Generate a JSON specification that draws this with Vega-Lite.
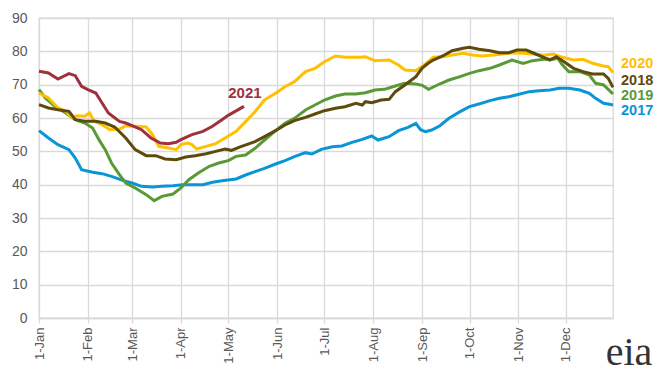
{
  "$schema": "https://vega.github.io/schema/vega-lite/v6.json",
  "width": 574,
  "height": 300,
  "autosize": "none",
  "padding": {"left": 39, "top": 18, "right": 56, "bottom": 57},
  "background": "white",
  "config": {
    "view": {"stroke": "#d9d9d9", "strokeWidth": 1.3},
    "font": "Liberation Sans"
  },
  "datasets": {
    "lines": [
      {"year":"2017","date":"2017-01-01","v":56.2},{"year":"2017","date":"2017-01-07","v":54},{"year":"2017","date":"2017-01-13","v":52},{"year":"2017","date":"2017-01-20","v":50.5},{"year":"2017","date":"2017-01-24","v":48},{"year":"2017","date":"2017-01-28","v":44.5},{"year":"2017","date":"2017-02-04","v":43.7},{"year":"2017","date":"2017-02-10","v":43.3},{"year":"2017","date":"2017-02-16","v":42.5},{"year":"2017","date":"2017-02-23","v":41.3},{"year":"2017","date":"2017-03-01","v":40.5},{"year":"2017","date":"2017-03-07","v":39.5},{"year":"2017","date":"2017-03-14","v":39.3},{"year":"2017","date":"2017-03-20","v":39.5},{"year":"2017","date":"2017-03-27","v":39.7},{"year":"2017","date":"2017-04-02","v":40},{"year":"2017","date":"2017-04-08","v":40},{"year":"2017","date":"2017-04-15","v":40},{"year":"2017","date":"2017-04-21","v":40.7},{"year":"2017","date":"2017-04-27","v":41.2},{"year":"2017","date":"2017-05-06","v":41.7},{"year":"2017","date":"2017-05-12","v":42.9},{"year":"2017","date":"2017-05-18","v":43.9},{"year":"2017","date":"2017-05-24","v":44.9},{"year":"2017","date":"2017-05-31","v":46.2},{"year":"2017","date":"2017-06-06","v":47.2},{"year":"2017","date":"2017-06-12","v":48.4},{"year":"2017","date":"2017-06-19","v":49.6},{"year":"2017","date":"2017-06-23","v":49.2},{"year":"2017","date":"2017-06-29","v":50.6},{"year":"2017","date":"2017-07-06","v":51.4},{"year":"2017","date":"2017-07-12","v":51.6},{"year":"2017","date":"2017-07-18","v":52.6},{"year":"2017","date":"2017-07-25","v":53.6},{"year":"2017","date":"2017-07-31","v":54.6},{"year":"2017","date":"2017-08-04","v":53.4},{"year":"2017","date":"2017-08-11","v":54.4},{"year":"2017","date":"2017-08-17","v":56.2},{"year":"2017","date":"2017-08-23","v":57.2},{"year":"2017","date":"2017-08-28","v":58.4},{"year":"2017","date":"2017-08-31","v":56.5},{"year":"2017","date":"2017-09-03","v":55.9},{"year":"2017","date":"2017-09-07","v":56.4},{"year":"2017","date":"2017-09-12","v":57.6},{"year":"2017","date":"2017-09-18","v":59.9},{"year":"2017","date":"2017-09-25","v":61.9},{"year":"2017","date":"2017-10-01","v":63.4},{"year":"2017","date":"2017-10-07","v":64.2},{"year":"2017","date":"2017-10-14","v":65.2},{"year":"2017","date":"2017-10-20","v":65.9},{"year":"2017","date":"2017-10-26","v":66.4},{"year":"2017","date":"2017-11-02","v":67.2},{"year":"2017","date":"2017-11-08","v":67.9},{"year":"2017","date":"2017-11-14","v":68.2},{"year":"2017","date":"2017-11-21","v":68.4},{"year":"2017","date":"2017-11-27","v":68.9},{"year":"2017","date":"2017-12-03","v":68.9},{"year":"2017","date":"2017-12-10","v":68.4},{"year":"2017","date":"2017-12-16","v":67.4},{"year":"2017","date":"2017-12-20","v":65.9},{"year":"2017","date":"2017-12-25","v":64.4},{"year":"2017","date":"2017-12-28","v":64.2},{"year":"2017","date":"2017-12-31","v":63.9},

      {"year":"2019","date":"2017-01-01","v":68.5},{"year":"2019","date":"2017-01-05","v":66},{"year":"2019","date":"2017-01-11","v":63.5},{"year":"2019","date":"2017-01-18","v":61.5},{"year":"2019","date":"2017-01-24","v":59.5},{"year":"2019","date":"2017-01-30","v":58.5},{"year":"2019","date":"2017-02-04","v":57},{"year":"2019","date":"2017-02-08","v":53.5},{"year":"2019","date":"2017-02-12","v":50.5},{"year":"2019","date":"2017-02-16","v":46.5},{"year":"2019","date":"2017-02-21","v":43},{"year":"2019","date":"2017-02-25","v":40.5},{"year":"2019","date":"2017-03-03","v":39},{"year":"2019","date":"2017-03-10","v":37},{"year":"2019","date":"2017-03-15","v":35.2},{"year":"2019","date":"2017-03-20","v":36.5},{"year":"2019","date":"2017-03-27","v":37.2},{"year":"2019","date":"2017-04-01","v":39},{"year":"2019","date":"2017-04-06","v":41.5},{"year":"2019","date":"2017-04-12","v":43.5},{"year":"2019","date":"2017-04-19","v":45.5},{"year":"2019","date":"2017-04-25","v":46.5},{"year":"2019","date":"2017-05-01","v":47.2},{"year":"2019","date":"2017-05-06","v":48.5},{"year":"2019","date":"2017-05-12","v":48.9},{"year":"2019","date":"2017-05-18","v":50.9},{"year":"2019","date":"2017-05-24","v":53.4},{"year":"2019","date":"2017-05-31","v":56.2},{"year":"2019","date":"2017-06-06","v":58.4},{"year":"2019","date":"2017-06-12","v":59.9},{"year":"2019","date":"2017-06-19","v":62.4},{"year":"2019","date":"2017-06-25","v":63.9},{"year":"2019","date":"2017-07-01","v":65.4},{"year":"2019","date":"2017-07-08","v":66.6},{"year":"2019","date":"2017-07-14","v":67.2},{"year":"2019","date":"2017-07-21","v":67.2},{"year":"2019","date":"2017-07-27","v":67.6},{"year":"2019","date":"2017-08-02","v":68.4},{"year":"2019","date":"2017-08-08","v":68.6},{"year":"2019","date":"2017-08-15","v":69.6},{"year":"2019","date":"2017-08-21","v":70.4},{"year":"2019","date":"2017-08-28","v":70.2},{"year":"2019","date":"2017-09-01","v":69.8},{"year":"2019","date":"2017-09-05","v":68.6},{"year":"2019","date":"2017-09-12","v":70.2},{"year":"2019","date":"2017-09-18","v":71.4},{"year":"2019","date":"2017-09-25","v":72.4},{"year":"2019","date":"2017-10-01","v":73.4},{"year":"2019","date":"2017-10-07","v":74.2},{"year":"2019","date":"2017-10-14","v":74.9},{"year":"2019","date":"2017-10-20","v":75.9},{"year":"2019","date":"2017-10-28","v":77.4},{"year":"2019","date":"2017-11-04","v":76.4},{"year":"2019","date":"2017-11-10","v":77.2},{"year":"2019","date":"2017-11-17","v":77.6},{"year":"2019","date":"2017-11-23","v":77.6},{"year":"2019","date":"2017-11-26","v":77.9},{"year":"2019","date":"2017-11-29","v":75.9},{"year":"2019","date":"2017-12-03","v":73.9},{"year":"2019","date":"2017-12-10","v":73.9},{"year":"2019","date":"2017-12-16","v":72.9},{"year":"2019","date":"2017-12-20","v":70.4},{"year":"2019","date":"2017-12-25","v":69.9},{"year":"2019","date":"2017-12-28","v":68.6},{"year":"2019","date":"2017-12-31","v":67.2},

      {"year":"2020","date":"2017-01-01","v":67.5},{"year":"2020","date":"2017-01-07","v":66},{"year":"2020","date":"2017-01-13","v":63},{"year":"2020","date":"2017-01-18","v":62},{"year":"2020","date":"2017-01-22","v":60},{"year":"2020","date":"2017-01-25","v":60.7},{"year":"2020","date":"2017-01-30","v":60.5},{"year":"2020","date":"2017-02-02","v":61.5},{"year":"2020","date":"2017-02-05","v":59},{"year":"2020","date":"2017-02-10","v":58},{"year":"2020","date":"2017-02-15","v":56.5},{"year":"2020","date":"2017-02-21","v":56.7},{"year":"2020","date":"2017-02-25","v":57.7},{"year":"2020","date":"2017-03-03","v":57.5},{"year":"2020","date":"2017-03-10","v":57.3},{"year":"2020","date":"2017-03-14","v":55},{"year":"2020","date":"2017-03-18","v":51.5},{"year":"2020","date":"2017-03-24","v":51},{"year":"2020","date":"2017-03-29","v":50.5},{"year":"2020","date":"2017-04-01","v":52},{"year":"2020","date":"2017-04-05","v":52.5},{"year":"2020","date":"2017-04-08","v":52},{"year":"2020","date":"2017-04-11","v":50.7},{"year":"2020","date":"2017-04-17","v":51.5},{"year":"2020","date":"2017-04-23","v":52.3},{"year":"2020","date":"2017-04-29","v":54},{"year":"2020","date":"2017-05-06","v":56},{"year":"2020","date":"2017-05-12","v":58.9},{"year":"2020","date":"2017-05-18","v":61.9},{"year":"2020","date":"2017-05-24","v":65.4},{"year":"2020","date":"2017-05-31","v":67.4},{"year":"2020","date":"2017-06-06","v":69.4},{"year":"2020","date":"2017-06-12","v":70.9},{"year":"2020","date":"2017-06-19","v":73.9},{"year":"2020","date":"2017-06-25","v":74.9},{"year":"2020","date":"2017-07-01","v":76.9},{"year":"2020","date":"2017-07-08","v":78.6},{"year":"2020","date":"2017-07-14","v":78.2},{"year":"2020","date":"2017-07-23","v":78.2},{"year":"2020","date":"2017-07-27","v":78.4},{"year":"2020","date":"2017-08-02","v":77.2},{"year":"2020","date":"2017-08-11","v":77.4},{"year":"2020","date":"2017-08-17","v":75.9},{"year":"2020","date":"2017-08-21","v":74.4},{"year":"2020","date":"2017-08-28","v":74.2},{"year":"2020","date":"2017-09-01","v":75.5},{"year":"2020","date":"2017-09-05","v":77},{"year":"2020","date":"2017-09-08","v":78.2},{"year":"2020","date":"2017-09-14","v":78.4},{"year":"2020","date":"2017-09-20","v":78.9},{"year":"2020","date":"2017-09-27","v":79.4},{"year":"2020","date":"2017-10-03","v":78.9},{"year":"2020","date":"2017-10-09","v":78.6},{"year":"2020","date":"2017-10-16","v":78.9},{"year":"2020","date":"2017-10-22","v":79.2},{"year":"2020","date":"2017-10-28","v":79.6},{"year":"2020","date":"2017-11-04","v":79.4},{"year":"2020","date":"2017-11-10","v":79.2},{"year":"2020","date":"2017-11-17","v":78.8},{"year":"2020","date":"2017-11-23","v":79.2},{"year":"2020","date":"2017-11-29","v":78.2},{"year":"2020","date":"2017-12-06","v":77.4},{"year":"2020","date":"2017-12-12","v":77.6},{"year":"2020","date":"2017-12-18","v":76.4},{"year":"2020","date":"2017-12-25","v":75.6},{"year":"2020","date":"2017-12-28","v":75.4},{"year":"2020","date":"2017-12-31","v":73.6},

      {"year":"2018","date":"2017-01-01","v":64},{"year":"2018","date":"2017-01-07","v":63},{"year":"2018","date":"2017-01-13","v":62.5},{"year":"2018","date":"2017-01-20","v":62},{"year":"2018","date":"2017-01-24","v":59.5},{"year":"2018","date":"2017-01-30","v":59},{"year":"2018","date":"2017-02-06","v":59},{"year":"2018","date":"2017-02-12","v":58.5},{"year":"2018","date":"2017-02-18","v":57.3},{"year":"2018","date":"2017-02-25","v":54},{"year":"2018","date":"2017-03-03","v":50.5},{"year":"2018","date":"2017-03-10","v":48.7},{"year":"2018","date":"2017-03-16","v":48.7},{"year":"2018","date":"2017-03-22","v":47.7},{"year":"2018","date":"2017-03-29","v":47.5},{"year":"2018","date":"2017-04-04","v":48.3},{"year":"2018","date":"2017-04-10","v":48.7},{"year":"2018","date":"2017-04-17","v":49.3},{"year":"2018","date":"2017-04-23","v":50},{"year":"2018","date":"2017-04-29","v":50.7},{"year":"2018","date":"2017-05-03","v":50.3},{"year":"2018","date":"2017-05-09","v":51.4},{"year":"2018","date":"2017-05-18","v":52.9},{"year":"2018","date":"2017-05-24","v":54.4},{"year":"2018","date":"2017-05-31","v":56.2},{"year":"2018","date":"2017-06-06","v":57.9},{"year":"2018","date":"2017-06-12","v":59.2},{"year":"2018","date":"2017-06-19","v":60.2},{"year":"2018","date":"2017-06-25","v":61.2},{"year":"2018","date":"2017-07-01","v":62.2},{"year":"2018","date":"2017-07-08","v":62.9},{"year":"2018","date":"2017-07-14","v":63.4},{"year":"2018","date":"2017-07-21","v":64.4},{"year":"2018","date":"2017-07-25","v":63.9},{"year":"2018","date":"2017-07-27","v":64.9},{"year":"2018","date":"2017-07-31","v":64.6},{"year":"2018","date":"2017-08-06","v":65.4},{"year":"2018","date":"2017-08-11","v":65.6},{"year":"2018","date":"2017-08-15","v":67.9},{"year":"2018","date":"2017-08-21","v":69.9},{"year":"2018","date":"2017-08-28","v":72.4},{"year":"2018","date":"2017-09-01","v":75},{"year":"2018","date":"2017-09-05","v":76.5},{"year":"2018","date":"2017-09-08","v":77.4},{"year":"2018","date":"2017-09-14","v":78.6},{"year":"2018","date":"2017-09-20","v":80.2},{"year":"2018","date":"2017-09-27","v":80.9},{"year":"2018","date":"2017-10-01","v":81.2},{"year":"2018","date":"2017-10-07","v":80.6},{"year":"2018","date":"2017-10-14","v":80.2},{"year":"2018","date":"2017-10-20","v":79.6},{"year":"2018","date":"2017-10-26","v":79.6},{"year":"2018","date":"2017-10-31","v":80.4},{"year":"2018","date":"2017-11-06","v":80.4},{"year":"2018","date":"2017-11-12","v":79.2},{"year":"2018","date":"2017-11-17","v":78.2},{"year":"2018","date":"2017-11-21","v":77.4},{"year":"2018","date":"2017-11-25","v":78.4},{"year":"2018","date":"2017-11-29","v":77.2},{"year":"2018","date":"2017-12-06","v":74.9},{"year":"2018","date":"2017-12-12","v":73.9},{"year":"2018","date":"2017-12-18","v":73.2},{"year":"2018","date":"2017-12-25","v":73.2},{"year":"2018","date":"2017-12-28","v":71.9},{"year":"2018","date":"2017-12-31","v":69.2},

      {"year":"2021","date":"2017-01-01","v":74},{"year":"2021","date":"2017-01-07","v":73.5},{"year":"2021","date":"2017-01-13","v":71.7},{"year":"2021","date":"2017-01-20","v":73.3},{"year":"2021","date":"2017-01-24","v":72.7},{"year":"2021","date":"2017-01-28","v":69.5},{"year":"2021","date":"2017-02-01","v":68.5},{"year":"2021","date":"2017-02-06","v":67.5},{"year":"2021","date":"2017-02-10","v":64.5},{"year":"2021","date":"2017-02-14","v":61.5},{"year":"2021","date":"2017-02-21","v":59},{"year":"2021","date":"2017-02-25","v":58.5},{"year":"2021","date":"2017-03-01","v":57.7},{"year":"2021","date":"2017-03-07","v":56.5},{"year":"2021","date":"2017-03-13","v":54},{"year":"2021","date":"2017-03-19","v":52.5},{"year":"2021","date":"2017-03-24","v":52.3},{"year":"2021","date":"2017-03-29","v":52.7},{"year":"2021","date":"2017-04-01","v":53.5},{"year":"2021","date":"2017-04-08","v":55},{"year":"2021","date":"2017-04-15","v":56},{"year":"2021","date":"2017-04-21","v":57.5},{"year":"2021","date":"2017-04-27","v":59.5},{"year":"2021","date":"2017-05-01","v":60.8},{"year":"2021","date":"2017-05-11","v":63.5}
    ],
    "labels": [
      {"year":"2020","date":"2017-12-31","v":76.2},
      {"year":"2018","date":"2017-12-31","v":71.2},
      {"year":"2019","date":"2017-12-31","v":66.6},
      {"year":"2017","date":"2017-12-31","v":62.0}
    ],
    "label2021": [
      {"year":"2021","date":"2017-05-01","v":67.4}
    ],
    "logo": [
      {"name":"eia","date":"2017-12-31","v":-14.1}
    ]
  },
  "layer": [
    {
      "data": {"name": "lines"},
      "mark": {"type": "line", "strokeWidth": 3},
      "encoding": {
        "x": {
          "field": "date", "type": "temporal",
          "scale": {"type": "utc", "domain": ["2017-01-01", "2017-12-31"], "nice": false},
          "axis": {
            "title": null,
            "format": "%-d-%b",
            "tickCount": {"interval": "month", "step": 1},
            "labelAngle": 270, "labelAlign": "right", "labelBaseline": "middle",
            "labelFontSize": 13, "labelColor": "#595959", "labelPadding": 4,
            "grid": true, "gridColor": "#d9d9d9", "gridWidth": 1.3,
            "domainColor": "#d9d9d9", "domainWidth": 1.3,
            "ticks": true, "tickColor": "#d9d9d9", "tickSize": 5, "tickWidth": 1.3,
            "labelOverlap": false, "labelFlush": false
          }
        },
        "y": {
          "field": "v", "type": "quantitative",
          "scale": {"domain": [0, 90], "nice": false},
          "axis": {
            "title": null,
            "values": [0,10,20,30,40,50,60,70,80,90],
            "tickCount": 10,
            "labelOverlap": false,
            "labelFontSize": 14, "labelColor": "#595959", "labelPadding": 12,
            "grid": true, "gridColor": "#d9d9d9", "gridWidth": 1.3,
            "domain": false, "ticks": false
          }
        },
        "color": {
          "field": "year", "type": "nominal",
          "scale": {"domain": ["2017","2018","2019","2020","2021"], "range": ["#0a96d6","#5e4a0c","#5a9a36","#ffc000","#a1303f"]},
          "legend": null
        }
      }
    },
    {
      "data": {"name": "labels"},
      "mark": {"type": "text", "align": "left", "baseline": "middle", "fontWeight": "bold", "fontSize": 14.5, "dx": 8},
      "encoding": {
        "x": {"field": "date", "type": "temporal"},
        "y": {"field": "v", "type": "quantitative"},
        "text": {"field": "year"},
        "color": {"field": "year", "type": "nominal", "legend": null}
      }
    },
    {
      "data": {"name": "label2021"},
      "mark": {"type": "text", "align": "left", "baseline": "middle", "fontWeight": "bold", "fontSize": 15},
      "encoding": {
        "x": {"field": "date", "type": "temporal"},
        "y": {"field": "v", "type": "quantitative"},
        "text": {"field": "year"},
        "color": {"field": "year", "type": "nominal", "legend": null}
      }
    },
    {
      "data": {"name": "logo"},
      "mark": {"type": "text", "align": "center", "baseline": "alphabetic", "font": "Liberation Serif", "fontSize": 40, "color": "#333333", "dx": 16},
      "encoding": {
        "x": {"field": "date", "type": "temporal"},
        "y": {"field": "v", "type": "quantitative"},
        "text": {"field": "name"}
      }
    }
  ]
}
